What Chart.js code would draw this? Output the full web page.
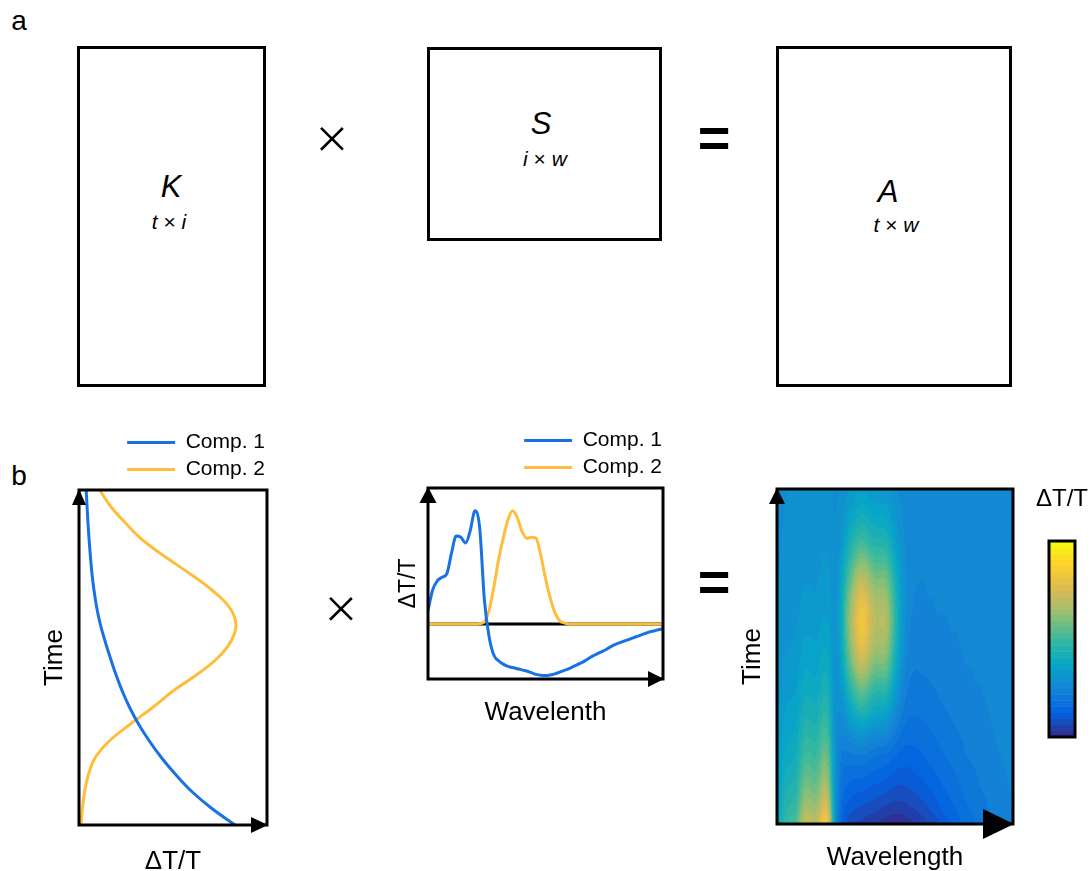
<!DOCTYPE html>
<html>
<head>
<meta charset="utf-8">
<title>Matrix decomposition of transient absorption data</title>
<script src="https://cdn.jsdelivr.net/npm/chart.js"></script>
<style>
  body { margin: 0; background: #fff; }
  #page { position: relative; width: 1091px; height: 871px; overflow: hidden; font-family: "Liberation Sans", Arial, sans-serif; color: #000; }
  .box { position: absolute; box-sizing: border-box; border: 3px solid #000; }
  .txt { position: absolute; transform: translate(-50%, -50%); line-height: 1; white-space: nowrap; }
  .op { -webkit-text-stroke: 1.4px #fff; }
  canvas { position: absolute; }
</style>
</head>
<body>
<div id="page">
  <!-- panel a: K x S = A -->
  <div class="txt" style="left:19px; top:21px; font-size:28px;">a</div>
  <div class="box" style="left:77px; top:46px; width:189px; height:341px;"></div>
  <div class="txt" style="left:171px; top:186px; font-size:31px; font-style:italic;">K</div>
  <div class="txt" style="left:169px; top:221px; font-size:21px;"><i>t</i> × <i>i</i></div>

  <div class="txt op" style="left:332px; top:138px; font-size:58px;">×</div>

  <div class="box" style="left:427px; top:47px; width:235px; height:194px;"></div>
  <div class="txt" style="left:541px; top:123px; font-size:31px; font-style:italic;">S</div>
  <div class="txt" style="left:545px; top:158px; font-size:21px;"><i>i</i> × <i>w</i></div>

  <div class="txt" style="left:714px; top:138px; font-size:56px; font-weight:bold;">=</div>

  <div class="box" style="left:776px; top:46px; width:236px; height:341px;"></div>
  <div class="txt" style="left:888px; top:191px; font-size:31px; font-style:italic;">A</div>
  <div class="txt" style="left:896px; top:224px; font-size:21px;"><i>t</i> × <i>w</i></div>

  <!-- panel b -->
  <div class="txt" style="left:19px; top:476px; font-size:28px;">b</div>
  <canvas id="kineticsChart" width="300" height="458" style="left:0; top:423px;"></canvas>
  <div class="txt op" style="left:341px; top:608px; font-size:58px;">×</div>
  <canvas id="spectraChart" width="330" height="319" style="left:360px; top:422px;"></canvas>
  <div class="txt" style="left:714px; top:582px; font-size:56px; font-weight:bold;">=</div>
  <canvas id="mapChart" width="371" height="411" style="left:720px; top:460px;"></canvas>
</div>

<script>
// time axis (normalised) and the two kinetic traces, K
const times = [0, 0.05, 0.10, 0.15, 0.20, 0.25, 0.30, 0.35, 0.40, 0.45, 0.50,
               0.55, 0.60, 0.65, 0.70, 0.75, 0.80, 0.85, 0.90, 0.95, 1.00];
const comp1Kinetics = [0.830, 0.705, 0.600, 0.515, 0.440, 0.375, 0.318, 0.270, 0.230, 0.196, 0.166,
                       0.138, 0.113, 0.094, 0.080, 0.069, 0.061, 0.054, 0.048, 0.043, 0.038];
const comp2Kinetics = [0.010, 0.018, 0.030, 0.050, 0.085, 0.160, 0.270, 0.390, 0.500, 0.630, 0.740,
                       0.810, 0.835, 0.800, 0.710, 0.590, 0.460, 0.340, 0.250, 0.170, 0.110];

// wavelength axis (normalised) and the two spectra, S
const wavelengths = [0.00, 0.02, 0.04, 0.06, 0.08, 0.10, 0.12, 0.14, 0.16, 0.18,
                     0.20, 0.22, 0.24, 0.26, 0.28, 0.30, 0.32, 0.34, 0.36, 0.38,
                     0.40, 0.42, 0.44, 0.46, 0.48, 0.50, 0.52, 0.54, 0.56, 0.58,
                     0.60, 0.62, 0.64, 0.66, 0.68, 0.70, 0.72, 0.74, 0.76, 0.78,
                     0.80, 0.82, 0.84, 0.86, 0.88, 0.90, 0.92, 0.94, 0.96, 0.98, 1.00];
const comp1Spectrum = [0.12, 0.30, 0.38, 0.41, 0.44, 0.62, 0.77, 0.76, 0.71, 0.82,
                       0.99, 0.84, 0.21, -0.11, -0.27, -0.32, -0.35, -0.37, -0.38, -0.39,
                       -0.40, -0.41, -0.425, -0.44, -0.448, -0.45, -0.445, -0.435, -0.42, -0.405,
                       -0.39, -0.37, -0.35, -0.33, -0.305, -0.28, -0.26, -0.24, -0.22, -0.195,
                       -0.175, -0.16, -0.145, -0.13, -0.115, -0.10, -0.085, -0.07, -0.06, -0.05, -0.04];
const comp2Spectrum = [0, 0, 0, 0, 0, 0, 0, 0, 0, 0,
                       0, 0.005, 0.02, 0.12, 0.32, 0.56, 0.75, 0.91, 0.99, 0.93,
                       0.81, 0.75, 0.76, 0.75, 0.60, 0.40, 0.23, 0.10, 0.03, 0.01,
                       0, 0, 0, 0, 0, 0, 0, 0, 0, 0,
                       0, 0, 0, 0, 0, 0, 0, 0, 0, 0, 0];

const BLUE = "#1872E4";
const ORANGE = "#FFBD3C";

// colour scale of the map
const parulaStops = ["#352a87", "#0363e1", "#1485d4", "#06a7c6", "#38b99e", "#92bf73", "#d9ba56", "#fcce2e", "#f9fb0e"];
const cMin = -0.375;
const cMax = 1.014;
const levels = 32;

Chart.defaults.font.family = '"Liberation Sans", Arial, sans-serif';
Chart.defaults.color = "#000";

function hexToRgb(h) {
    return [parseInt(h.slice(1, 3), 16), parseInt(h.slice(3, 5), 16), parseInt(h.slice(5, 7), 16)];
}

function parula(f) {
    const n = parulaStops.length;
    const p = Math.max(0, Math.min(1, f)) * (n - 1);
    const i = Math.min(n - 2, Math.floor(p));
    const r = p - i;
    const a = hexToRgb(parulaStops[i]);
    const b = hexToRgb(parulaStops[i + 1]);
    return [0, 1, 2].map((k) => Math.round(a[k] + (b[k] - a[k]) * r));
}

const bandColors = [];
for (let i = 0; i < levels; i++) {
    bandColors.push(parula((i + 0.5) / levels));
}

// box round the plot area with an arrow head on each axis
const framePlugin = {
    id: "frame",
    afterDatasetsDraw(chart, args, opts) {
        const { ctx, chartArea: a } = chart;
        ctx.save();
        ctx.strokeStyle = "#000";
        ctx.lineWidth = 3;
        ctx.strokeRect(a.left, a.top, a.right - a.left, a.bottom - a.top);
        ctx.fillStyle = "#000";
        ctx.beginPath();
        ctx.moveTo(a.left, a.top - 1);
        ctx.lineTo(a.left - opts.upW / 2, a.top + opts.upH);
        ctx.lineTo(a.left + opts.upW / 2, a.top + opts.upH);
        ctx.closePath();
        ctx.fill();
        ctx.beginPath();
        ctx.moveTo(a.right + 1, a.bottom);
        ctx.lineTo(a.right - opts.rightL, a.bottom - opts.rightH / 2);
        ctx.lineTo(a.right - opts.rightL, a.bottom + opts.rightH / 2);
        ctx.closePath();
        ctx.fill();
        ctx.restore();
    }
};

// A = K x S, painted as a smoothed, banded image under the frame
const heatmapPlugin = {
    id: "heatmap",
    beforeDatasetsDraw(chart) {
        const { ctx, chartArea: area, scales: { x, y } } = chart;
        const nw = wavelengths.length;
        const nt = times.length;

        const small = document.createElement("canvas");
        small.width = nw;
        small.height = nt;
        const sctx = small.getContext("2d");
        const img = sctx.createImageData(nw, nt);
        for (let i = 0; i < nt; i++) {
            for (let j = 0; j < nw; j++) {
                const v = comp1Kinetics[i] * comp1Spectrum[j] + comp2Kinetics[i] * comp2Spectrum[j];
                const g = Math.max(0, Math.min(255, Math.round(255 * (v - cMin) / (cMax - cMin))));
                const k = ((nt - 1 - i) * nw + j) * 4;
                img.data[k] = g;
                img.data[k + 1] = g;
                img.data[k + 2] = g;
                img.data[k + 3] = 255;
            }
        }
        sctx.putImageData(img, 0, 0);

        const w = Math.round(area.right - area.left);
        const h = Math.round(area.bottom - area.top);
        const big = document.createElement("canvas");
        big.width = w;
        big.height = h;
        const bctx = big.getContext("2d");
        bctx.imageSmoothingEnabled = true;
        bctx.imageSmoothingQuality = "high";
        const dw = (wavelengths[1] - wavelengths[0]) / 2;
        const dt = (times[1] - times[0]) / 2;
        const x0 = x.getPixelForValue(wavelengths[0] - dw) - area.left;
        const x1 = x.getPixelForValue(wavelengths[nw - 1] + dw) - area.left;
        const y0 = y.getPixelForValue(times[nt - 1] + dt) - area.top;
        const y1 = y.getPixelForValue(times[0] - dt) - area.top;
        bctx.drawImage(small, x0, y0, x1 - x0, y1 - y0);

        const px = bctx.getImageData(0, 0, w, h);
        for (let k = 0; k < px.data.length; k += 4) {
            const lvl = Math.min(levels - 1, Math.floor(px.data[k] / 256 * levels));
            const c = bandColors[lvl];
            px.data[k] = c[0];
            px.data[k + 1] = c[1];
            px.data[k + 2] = c[2];
            px.data[k + 3] = 255;
        }
        bctx.putImageData(px, 0, 0);
        ctx.drawImage(big, area.left, area.top);
    },
    afterDraw(chart) {
        // colour bar to the right of the map
        const { ctx, chartArea: area } = chart;
        const left = area.right + 36;
        const top = area.top + 52;
        const width = 26;
        const height = 196;
        ctx.save();
        for (let i = 0; i < levels; i++) {
            const c = bandColors[i];
            const y1 = top + height - (i + 1) * height / levels;
            ctx.fillStyle = `rgb(${c[0]},${c[1]},${c[2]})`;
            ctx.fillRect(left, y1, width, height / levels + 0.5);
        }
        ctx.strokeStyle = "#000";
        ctx.lineWidth = 3;
        ctx.strokeRect(left, top, width, height);
        ctx.fillStyle = "#000";
        ctx.font = '24px "Liberation Sans", Arial, sans-serif';
        ctx.textAlign = "center";
        ctx.textBaseline = "middle";
        ctx.fillText("ΔT/T", left + width / 2, area.top + 10);
        ctx.restore();
    }
};

function bareAxis(min, max, title, size, pad) {
    return {
        type: "linear",
        min: min,
        max: max,
        ticks: { display: false },
        grid: { display: false, drawTicks: false },
        border: { display: false },
        title: { display: true, text: title, font: { size: size, lineHeight: 1 }, padding: pad }
    };
}

// empty right-hand axis; only its tick length is used, as a gap
// between the plot frame and the right end of the legend
function spacerAxis(gap) {
    return {
        type: "linear",
        position: "right",
        ticks: { display: false },
        grid: { display: false, drawTicks: true, tickLength: gap },
        border: { display: false }
    };
}

const legendOptions = {
    display: true,
    position: "top",
    align: "end",
    labels: {
        usePointStyle: true,
        pointStyle: "line",
        pointStyleWidth: 48,
        padding: 6,
        font: { size: 21 },
        color: "#000",
        filter: (item) => item.datasetIndex < 2
    }
};

// K: kinetics, time runs up the vertical axis
const kineticsChart = new Chart(document.getElementById("kineticsChart"), {
    type: "line",
    data: {
        datasets: [{
            label: "Comp. 1",
            data: times.map((t, i) => ({ x: comp1Kinetics[i], y: t })),
            borderColor: BLUE,
            backgroundColor: BLUE,
            borderWidth: 3,
            pointRadius: 0,
            tension: 0.4,
            order: 1
        }, {
            label: "Comp. 2",
            data: times.map((t, i) => ({ x: comp2Kinetics[i], y: t })),
            borderColor: ORANGE,
            backgroundColor: ORANGE,
            borderWidth: 3,
            pointRadius: 0,
            tension: 0.4,
            order: 2
        }]
    },
    options: {
        responsive: false,
        animation: false,
        layout: { padding: { left: 38, right: 29, top: 3, bottom: 0 } },
        plugins: {
            legend: legendOptions,
            tooltip: { enabled: false },
            frame: { upW: 14, upH: 15, rightL: 16, rightH: 16 }
        },
        scales: {
            x: bareAxis(0, 1, "ΔT/T", 26, { top: 24, bottom: 6 }),
            y: bareAxis(0, 1, "Time", 26, { top: 4, bottom: 11 }),
            gap: spacerAxis(4)
        }
    },
    plugins: [framePlugin]
});

// S: spectra, with the zero line drawn underneath
const spectraChart = new Chart(document.getElementById("spectraChart"), {
    type: "line",
    data: {
        datasets: [{
            label: "Comp. 1",
            data: wavelengths.map((w, i) => ({ x: w, y: comp1Spectrum[i] })),
            borderColor: BLUE,
            backgroundColor: BLUE,
            borderWidth: 3,
            pointRadius: 0,
            cubicInterpolationMode: "monotone",
            order: 1
        }, {
            label: "Comp. 2",
            data: wavelengths.map((w, i) => ({ x: w, y: comp2Spectrum[i] })),
            borderColor: ORANGE,
            backgroundColor: ORANGE,
            borderWidth: 3,
            pointRadius: 0,
            cubicInterpolationMode: "monotone",
            order: 2
        }, {
            label: "zero",
            data: [{ x: 0, y: 0 }, { x: 1, y: 0 }],
            borderColor: "#000",
            borderWidth: 3,
            pointRadius: 0,
            order: 3
        }]
    },
    options: {
        responsive: false,
        animation: false,
        layout: { padding: { left: 30, right: 22, top: 2, bottom: 11 } },
        plugins: {
            legend: legendOptions,
            tooltip: { enabled: false },
            frame: { upW: 17, upH: 15, rightL: 15, rightH: 16 }
        },
        scales: {
            x: bareAxis(0, 1, "Wavelenth", 26, { top: 21, bottom: 4 }),
            y: bareAxis(-0.48, 1.19, "ΔT/T", 23, { top: 7, bottom: 8 }),
            gap: spacerAxis(5)
        }
    },
    plugins: [framePlugin]
});

// A: time-wavelength map built from K and S
const mapChart = new Chart(document.getElementById("mapChart"), {
    type: "scatter",
    data: { datasets: [] },
    options: {
        responsive: false,
        animation: false,
        layout: { padding: { left: 16, right: 78, top: 29, bottom: 0 } },
        plugins: {
            legend: { display: false },
            tooltip: { enabled: false },
            frame: { upW: 16, upH: 15, rightL: 30, rightH: 30 }
        },
        scales: {
            x: bareAxis(0, 1, "Wavelength", 26, { top: 21, bottom: 0 }),
            y: bareAxis(0, 1, "Time", 26, { top: 4, bottom: 11 })
        }
    },
    plugins: [heatmapPlugin, framePlugin]
});
</script>
</body>
</html>
